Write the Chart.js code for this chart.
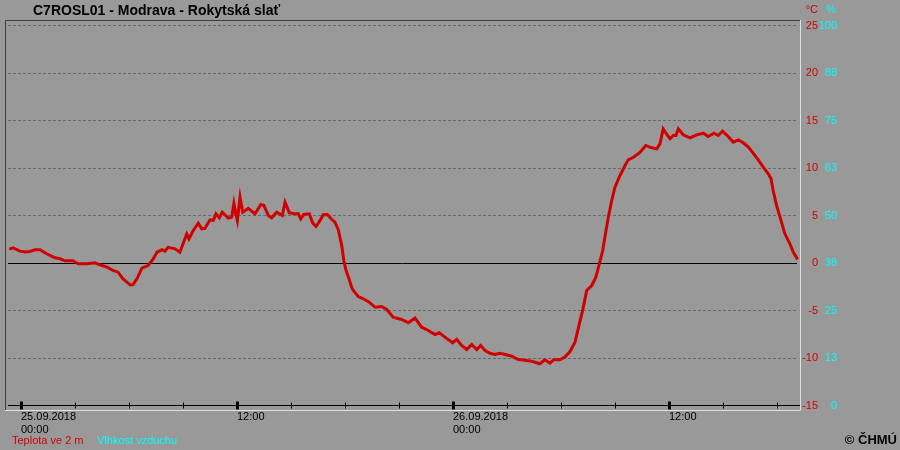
<!DOCTYPE html>
<html><head><meta charset="utf-8">
<script src="https://cdn.jsdelivr.net/npm/chart.js@4.4.0/dist/chart.umd.min.js"></script>
<style>html,body{margin:0;padding:0;background:#999999;overflow:hidden}#wrap{width:900px;height:450px;position:relative}canvas{display:block}</style>
</head><body><div id="wrap"><canvas id="c" width="900" height="450"></canvas></div>
<script>
const TITLE = 'C7ROSL01 - Modrava - Rokytská slať';
const SERIES_NAMES = ['Teplota ve 2 m', 'Vlhkost vzduchu'];
const COPYRIGHT = '© ČHMÚ';
// hours since 25.09.2018 00:00
const hours = [-0.65,-0.44,-0.06,0.22,0.5,0.78,1.06,1.33,1.61,1.89,2.17,2.44,2.89,3.17,3.67,4.11,4.39,4.78,5.11,5.39,5.67,6.06,6.22,6.44,6.72,7.06,7.33,7.56,7.83,8.0,8.17,8.56,8.83,
9.21,9.33,9.57,9.85,10.04,10.22,10.5,10.68,10.83,11.02,11.18,11.52,11.71,11.83,11.93,12.02,12.17,12.32,12.63,13.0,13.33,13.5,13.74,13.93,14.21,14.52,14.67,14.91,15.22,15.41,15.54,15.72,16.02,16.21,16.39,16.61,16.79,17.02,17.26,17.44,17.63,17.82,17.94,18.06,18.24,18.37,18.46,18.74,
19.02,19.29,19.67,20.04,20.32,20.68,21.15,21.52,21.89,22.26,22.63,23.0,23.24,23.61,23.98,24.21,24.48,24.76,25.04,25.32,25.54,25.78,26.06,26.33,26.61,26.89,27.26,27.63,28.0,28.37,28.83,29.11,29.39,29.61,29.94,30.22,30.5,30.78,31.02,31.21,31.43,31.71,31.94,32.13,32.32,32.44,32.63,32.82,33.0,33.28,33.56,33.74,34.02,34.29,34.48,34.71,35.04,35.32,35.5,35.68,35.83,36.06,36.24,36.39,36.52,36.79,37.17,37.54,37.91,38.18,38.5,38.74,38.98,39.29,39.57,39.85,40.13,40.41,40.68,40.96,41.24,41.52,41.67,41.79,41.98,42.17,42.44,42.72,42.91,43.15];
const temperature = [1.4,1.55,1.2,1.1,1.16,1.34,1.34,1.02,0.74,0.5,0.39,0.18,0.18,-0.14,-0.14,-0.03,-0.24,-0.49,-0.84,-1.02,-1.72,-2.35,-2.35,-1.72,-0.6,-0.32,0.32,1.08,1.34,1.19,1.6,1.44,1.08,
3.0,2.5,3.37,4.14,3.54,3.6,4.49,4.42,5.12,4.7,5.3,4.67,4.77,6.24,5.2,4.42,6.87,5.3,5.7,5.12,6.1,6.0,4.95,4.7,5.3,4.95,6.35,5.23,5.12,5.12,4.6,5.05,5.12,4.14,3.79,4.4,5.02,5.05,4.55,4.24,3.45,1.79,0.15,-0.84,-1.8,-2.6,-2.95,-3.58,
-3.82,-4.1,-4.7,-4.63,-4.95,-5.76,-6.0,-6.35,-5.86,-6.81,-7.16,-7.58,-7.4,-7.93,-8.45,-8.1,-8.74,-9.16,-8.63,-9.16,-8.74,-9.26,-9.55,-9.68,-9.55,-9.68,-9.86,-10.21,-10.3,-10.39,-10.66,-10.24,-10.6,-10.21,-10.24,-9.96,-9.37,-8.39,-6.46,-4.98,-2.95,-2.42,-1.55,-0.14,1.26,2.67,4.77,6.53,7.93,9.16,10.21,10.81,11.08,11.44,11.79,12.32,12.07,11.97,12.49,14.07,13.61,13.02,13.37,13.37,14.07,13.44,13.12,13.44,13.61,13.26,13.61,13.37,13.82,13.26,12.67,12.91,12.6,12.14,11.51,10.81,10.03,9.33,8.81,7.58,6.0,4.77,3.02,1.97,1.08,0.32];
const tempTicks = [25,20,15,10,5,0,-5,-10,-15];
const humidityTicks = [100,88,75,63,50,38,25,13,0];
const majorTimeTicks = [0,12,24,36];
const majorTimeLabels = [['25.09.2018','00:00'],['12:00'],['26.09.2018','00:00'],['12:00']];
const minorTimeTicks = [3,6,9,15,18,21,27,30,33,39,42];
const X_MIN = -0.833, X_MAX = 43.28, T_MIN = -15, T_MAX = 25;

const FONT = '"Liberation Sans", Arial, sans-serif';
const RED = '#d00000', CYAN = '#00ffff';

const decor = {
  id: 'decor',
  beforeDatasetsDraw(chart) {
    const ctx = chart.ctx, x = chart.scales.x, y = chart.scales.y;
    const a = chart.chartArea;
    ctx.save();
    // dashed grid
    ctx.strokeStyle = '#686868'; ctx.lineWidth = 1; ctx.setLineDash([3,2]);
    tempTicks.forEach(t => {
      if (t === 0 || t === T_MIN) return;
      const py = Math.round(y.getPixelForValue(t)) + 0.5;
      ctx.beginPath(); ctx.moveTo(8, py); ctx.lineTo(797, py); ctx.stroke();
    });
    ctx.setLineDash([]);
    // zero line
    ctx.strokeStyle = '#000'; 
    let py0 = Math.round(y.getPixelForValue(0)) + 0.5;
    ctx.beginPath(); ctx.moveTo(8, py0); ctx.lineTo(797, py0); ctx.stroke();
    // time axis
    const pyA = Math.round(y.getPixelForValue(T_MIN)) + 0.5;
    ctx.beginPath(); ctx.moveTo(8, pyA); ctx.lineTo(a.right, pyA); ctx.stroke();
    minorTimeTicks.forEach(h => {
      const px = Math.round(x.getPixelForValue(h)) + 0.5;
      ctx.beginPath(); ctx.moveTo(px, pyA - 3); ctx.lineTo(px, pyA + 3); ctx.stroke();
    });
    ctx.fillStyle = '#000';
    majorTimeTicks.forEach(h => {
      const px = Math.round(x.getPixelForValue(h));
      ctx.fillRect(px - 1, pyA - 4, 3, 8);
    });
    // frame
    ctx.strokeStyle = '#3c3c3c';
    ctx.beginPath(); ctx.moveTo(5.5, 410); ctx.lineTo(5.5, 20.5); ctx.lineTo(800, 20.5); ctx.stroke();
    ctx.strokeStyle = '#e0e0e0';
    ctx.beginPath(); ctx.moveTo(800.5, 20); ctx.lineTo(800.5, 410.5); ctx.lineTo(5, 410.5); ctx.stroke();
    ctx.restore();
  },
  afterDraw(chart) {
    const ctx = chart.ctx, x = chart.scales.x, y = chart.scales.y;
    ctx.save();
    ctx.textBaseline = 'middle';
    // title
    ctx.font = 'bold 14px ' + FONT; ctx.fillStyle = '#000'; ctx.textAlign = 'left';
    ctx.fillText(TITLE, 33, 11);
    // units
    ctx.font = '11px ' + FONT;
    ctx.textAlign = 'right'; ctx.fillStyle = RED; ctx.fillText('°C', 818, 10);
    ctx.fillStyle = CYAN; ctx.fillText('%', 836, 10);
    tempTicks.forEach((t, i) => {
      const py = y.getPixelForValue(t) + 0.5;
      ctx.fillStyle = RED; ctx.fillText(String(t), 818, py);
      ctx.fillStyle = CYAN; ctx.fillText(String(humidityTicks[i]), 837, py);
    });
    // time labels
    ctx.fillStyle = '#000'; ctx.textAlign = 'left';
    majorTimeTicks.forEach((h, i) => {
      const px = Math.round(x.getPixelForValue(h));
      majorTimeLabels[i].forEach((s, j) => ctx.fillText(s, px, 417 + j * 12.5));
    });
    // legend
    ctx.fillStyle = RED; ctx.fillText(SERIES_NAMES[0], 12, 441);
    ctx.fillStyle = CYAN; ctx.fillText(SERIES_NAMES[1], 97, 441);
    // copyright
    ctx.font = 'bold 13px ' + FONT; ctx.fillStyle = '#000'; ctx.textAlign = 'right';
    ctx.fillText(COPYRIGHT, 897, 440);
    ctx.restore();
  }
};

new Chart(document.getElementById('c'), {
  type: 'line',
  data: { datasets: [
    { label: SERIES_NAMES[0], data: hours.map((h, i) => ({ x: h, y: temperature[i] })),
      borderColor: RED, borderWidth: 3, pointRadius: 0, tension: 0, fill: false, yAxisID: 'y' }
  ]},
  options: {
    responsive: false, animation: false, devicePixelRatio: 1,
    layout: { padding: { left: 6, right: 100, top: 25, bottom: 45 } },
    scales: {
      x: { type: 'linear', min: X_MIN, max: X_MAX, display: false },
      y: { min: T_MIN, max: T_MAX, display: false },
      yH: { min: 0, max: 100, display: false, position: 'right' }
    },
    plugins: { legend: { display: false }, tooltip: { enabled: false }, title: { display: false } }
  },
  plugins: [decor]
});
</script></body></html>
